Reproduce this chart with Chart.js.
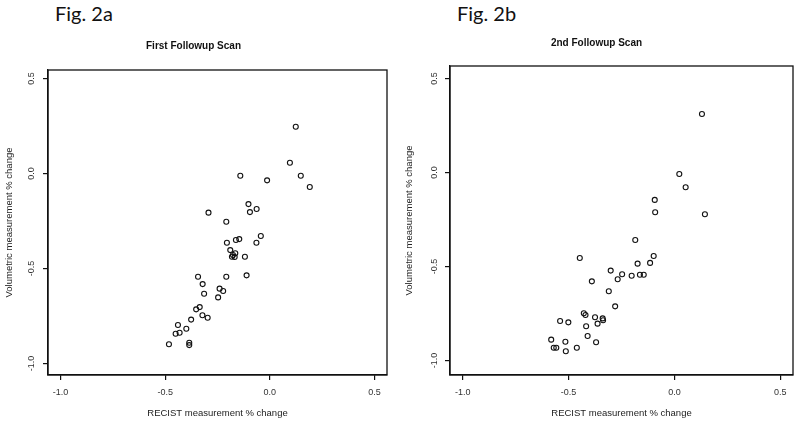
<!DOCTYPE html>
<html>
<head>
<meta charset="utf-8">
<script src="https://cdn.jsdelivr.net/npm/chart.js@4.4.1/dist/chart.umd.min.js"></script>
<style>
  html, body { margin: 0; padding: 0; background: #fff; }
  #wrap { position: relative; width: 800px; height: 428px; overflow: hidden; background: #fff; }
  canvas { position: absolute; top: 0; }
  .fig { position: absolute; font-family: Lato, "Open Sans", sans-serif; font-size: 20px; line-height: 20px; color: #111; }
</style>
</head>
<body>
<div id="wrap">
  <div class="fig" style="left:55px; top:3px;">Fig. 2a</div>
  <div class="fig" style="left:457px; top:3px;">Fig. 2b</div>
  <canvas id="c1" width="400" height="428" style="left:0px"></canvas>
  <canvas id="c2" width="400" height="428" style="left:400px"></canvas>
</div>
<script>
// ---- Data ----
const xTickValues = [-1.0, -0.5, 0.0, 0.5];
const yTickValues = [-1.0, -0.5, 0.0, 0.5];

const titleA = "First Followup Scan";
const titleB = "2nd Followup Scan";
const xAxisTitle = "RECIST measurement % change";
const yAxisTitle = "Volumetric measurement % change";

// Fig. 2a – First followup scan
const firstRecist = [0.124, 0.096, -0.141, -0.013, 0.148, 0.191, -0.102, -0.095, -0.063, -0.293,
  -0.208, -0.043, -0.064, -0.205, -0.162, -0.146, -0.189, -0.176, -0.168, -0.181,
  -0.119, -0.165, -0.343, -0.208, -0.111, -0.321, -0.314, -0.240, -0.223, -0.247,
  -0.352, -0.335, -0.322, -0.297, -0.376, -0.439, -0.399, -0.450, -0.431, -0.482,
  -0.385, -0.385];
const firstVolume = [0.246, 0.057, -0.012, -0.036, -0.012, -0.071, -0.161, -0.203, -0.187, -0.206,
  -0.254, -0.329, -0.364, -0.364, -0.350, -0.345, -0.403, -0.429, -0.439, -0.438,
  -0.438, -0.420, -0.543, -0.543, -0.536, -0.582, -0.633, -0.606, -0.618, -0.652,
  -0.715, -0.703, -0.746, -0.759, -0.769, -0.797, -0.817, -0.843, -0.838, -0.899,
  -0.891, -0.903];

// Fig. 2b – 2nd followup scan
const secondRecist = [0.130, 0.023, 0.053, -0.093, -0.091, 0.144, -0.185, -0.447, -0.098, -0.174,
  -0.115, -0.301, -0.247, -0.268, -0.202, -0.163, -0.145, -0.390, -0.310, -0.280,
  -0.428, -0.420, -0.540, -0.501, -0.375, -0.339, -0.337, -0.363, -0.417, -0.582,
  -0.515, -0.410, -0.370, -0.570, -0.558, -0.461, -0.513];
const secondVolume = [0.311, -0.008, -0.079, -0.146, -0.212, -0.222, -0.359, -0.455, -0.444, -0.485,
  -0.481, -0.522, -0.541, -0.568, -0.549, -0.544, -0.544, -0.579, -0.632, -0.712,
  -0.749, -0.758, -0.790, -0.797, -0.770, -0.776, -0.786, -0.804, -0.818, -0.889,
  -0.900, -0.870, -0.903, -0.932, -0.932, -0.932, -0.951];

// ---- Drawing ----
const boxAndLabels = {
  id: 'boxAndLabels',
  afterDraw(chart, args, opts) {
    const { ctx, chartArea: a, scales: { y } } = chart;
    ctx.save();
    ctx.strokeStyle = '#111';
    ctx.lineWidth = 1.3;
    ctx.strokeRect(a.left, a.top, a.right - a.left, a.bottom - a.top);
    ctx.fillStyle = '#333';
    ctx.font = '9px "Liberation Sans", Arial, sans-serif';
    ctx.textAlign = 'center';
    ctx.textBaseline = 'middle';
    y.ticks.forEach(t => {
      const py = y.getPixelForValue(t.value);
      ctx.save();
      ctx.translate(opts.labelX, py);
      ctx.rotate(-Math.PI / 2);
      ctx.fillText(Number(t.value).toFixed(1), 0, 0);
      ctx.restore();
    });
    ctx.restore();
  }
};

function makeChart(id, xs, ys, title, g) {
  const pts = xs.map((x, i) => ({ x: x, y: ys[i] }));
  return new Chart(document.getElementById(id), {
    type: 'scatter',
    data: {
      datasets: [{
        data: pts,
        pointStyle: 'circle',
        pointRadius: 2.5,
        pointHoverRadius: 2.5,
        pointBorderWidth: 1.1,
        borderColor: '#111',
        backgroundColor: 'rgba(255,255,255,0)'
      }]
    },
    options: {
      responsive: false,
      animation: false,
      devicePixelRatio: 1,
      events: [],
      layout: { padding: { top: 0, right: g.padRight, bottom: 0, left: 0 } },
      plugins: {
        legend: { display: false },
        tooltip: { enabled: false },
        title: {
          display: true,
          text: title,
          color: '#111',
          font: { family: '"Liberation Sans", Arial, sans-serif', size: 10, weight: 'bold', lineHeight: 1.2 },
          padding: { top: g.titleTop, bottom: g.titleBottom }
        },
        boxAndLabels: { labelX: g.labelX }
      },
      scales: {
        x: {
          type: 'linear',
          min: g.xmin, max: g.xmax,
          afterBuildTicks: s => { s.ticks = xTickValues.map(v => ({ value: v })); },
          afterFit: s => { s.height = g.xAxisH; },
          border: { display: true, color: '#111', width: 1.3 },
          grid: { display: true, drawOnChartArea: false, drawTicks: true, tickLength: 5, color: '#111', lineWidth: 1.2 },
          ticks: {
            color: '#333', padding: 7,
            font: { family: '"Liberation Sans", Arial, sans-serif', size: 9 },
            maxRotation: 0, minRotation: 0,
            callback: v => Number(v).toFixed(1)
          },
          title: {
            display: true, text: xAxisTitle, color: '#222',
            font: { family: '"Liberation Sans", Arial, sans-serif', size: 9.5 },
            padding: { top: 0, bottom: 9 }
          }
        },
        y: {
          type: 'linear',
          min: g.ymin, max: g.ymax,
          afterBuildTicks: s => { s.ticks = yTickValues.map(v => ({ value: v })); },
          afterFit: s => { s.width = g.yAxisW; },
          border: { display: true, color: '#111', width: 1.3 },
          grid: { display: true, drawOnChartArea: false, drawTicks: true, tickLength: 5, color: '#111', lineWidth: 1.2 },
          ticks: { display: false },
          title: {
            display: true, text: yAxisTitle, color: '#222',
            font: { family: '"Liberation Sans", Arial, sans-serif', size: 9.5 },
            padding: { top: 4, bottom: 0 }
          }
        }
      }
    },
    plugins: [boxAndLabels]
  });
}

makeChart('c1', firstRecist, firstVolume, titleA, {
  xmin: -1.06, xmax: 0.56, ymin: -1.0605, ymax: 0.545,
  yAxisW: 48, xAxisH: 53, padRight: 13, titleTop: 40, titleBottom: 18, labelX: 32
});
makeChart('c2', secondRecist, secondVolume, titleB, {
  xmin: -1.06, xmax: 0.56, ymin: -1.077, ymax: 0.566,
  yAxisW: 50, xAxisH: 53, padRight: 7, titleTop: 37, titleBottom: 17, labelX: 34.5
});
</script>
</body>
</html>
